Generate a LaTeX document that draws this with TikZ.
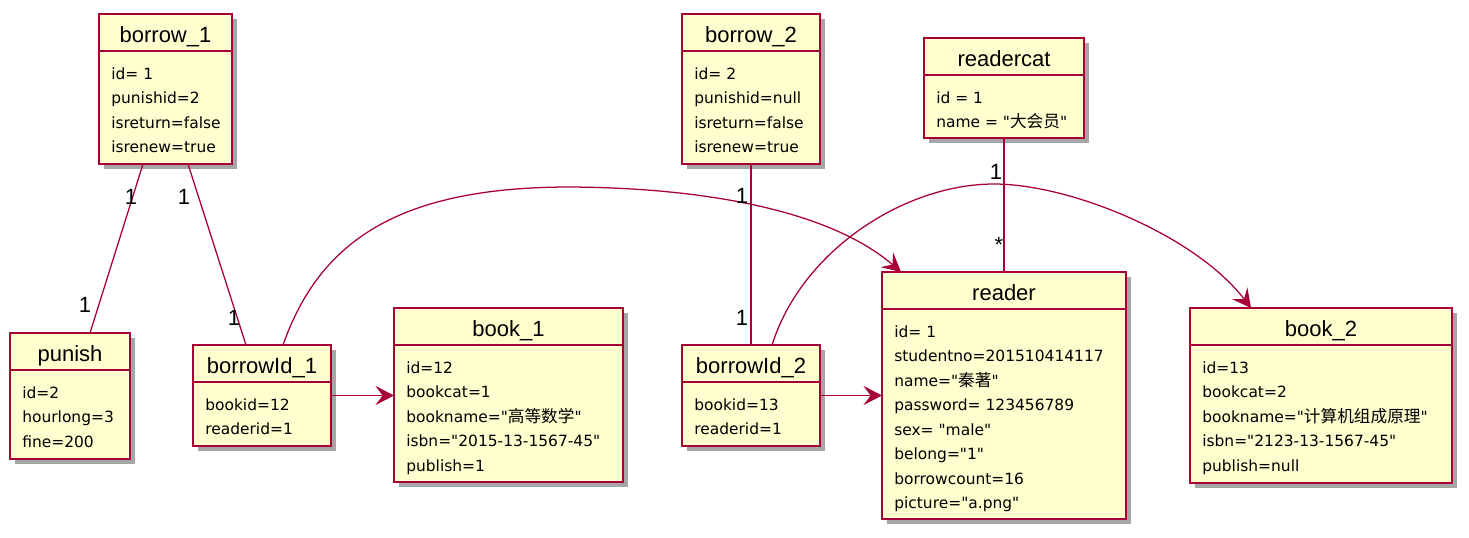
\documentclass[tikz,border=0pt]{standalone}
\usepackage{fontspec}
\setmainfont{Liberation Sans}
\newfontfamily\attrfont{DejaVu Sans}
\newfontfamily\cjk{Noto Sans CJK SC}
\usepackage{tikz}
\usetikzlibrary{arrows.meta,positioning,calc,shadows}
\definecolor{umlred}{HTML}{A80036}
\definecolor{umlfill}{HTML}{FEFECE}
\newdimen\px \px=0.75pt
\newcommand{\hanzi}[1]{{\cjk\fontsize{12.5pt}{18.375pt}\selectfont #1}}
% object box: name, x, y, width, height, title, attribute lines
\newcommand{\umlobject}[7]{%
  \node[obj,minimum width=#4\px,minimum height=#5\px] (#1) at (#2,#3) {};
  \draw[objline] ($(#1.north west)+(0,37)$) -- ($(#1.north east)+(0,37)$);
  \node[objtitle] (#1t) at ($(#1.north)+(0,28.5)$) {#6};
  \node[objattr] (#1a) at ($(#1.north west)+(12,37)$) {\rule{0pt}{28\px}#7};
}

\begin{document}
\begin{tikzpicture}[x=0.75pt,y=-0.75pt,
  obj/.style={draw=umlred,fill=umlfill,line width=1.3pt,anchor=north west,inner sep=0,outer sep=0,
    drop shadow={shadow xshift=3.5pt,shadow yshift=-3.5pt,fill=black,opacity=.35}},
  objline/.style={umlred,line width=1.3pt},
  objtitle/.style={anchor=base,inner sep=0,font=\fontsize{16.5pt}{19pt}\selectfont},
  objattr/.style={anchor=north west,inner sep=0,align=left,font=\attrfont\fontsize{11.6pt}{18.375pt}\selectfont},
  link/.style={umlred,line width=0.95pt},
  arr/.style={link,-{Stealth[length=14pt,width=14.5pt,inset=5.5pt]}},
  mult/.style={inner sep=0,font=\fontsize{16.5pt}{19pt}\selectfont}
  ]
  \useasboundingbox (0,0) rectangle (1469,537);

  \umlobject{b1}{99}{14}{133}{150}{borrow\_1}{id= 1\\punishid=2\\isreturn=false\\isrenew=true}
  \umlobject{b2}{682}{14}{138}{150}{borrow\_2}{id= 2\\punishid=null\\isreturn=false\\isrenew=true}
  \umlobject{rc}{924}{38}{160}{100}{readercat}{id = 1\\name = "\hanzi{大会员}"}
  \umlobject{pn}{10}{333}{120}{126}{punish}{id=2\\hourlong=3\\fine=200}
  \umlobject{bi1}{193}{345}{138}{101}{borrowId\_1}{bookid=12\\readerid=1}
  \umlobject{bk1}{394}{308}{229}{174}{book\_1}{id=12\\bookcat=1\\bookname="\hanzi{高等数学}"\\isbn="2015-13-1567-45"\\publish=1}
  \umlobject{bi2}{682}{345}{138}{101}{borrowId\_2}{bookid=13\\readerid=1}
  \umlobject{rd}{882}{272}{244}{247}{reader}{id= 1\\studentno=201510414117\\name="\hanzi{秦著}"\\password= 123456789\\sex= "male"\\belong="1"\\borrowcount=16\\picture="a.png"}
  \umlobject{bk2}{1190}{308}{262}{175}{book\_2}{id=13\\bookcat=2\\bookname="\hanzi{计算机组成原理}"\\isbn="2123-13-1567-45"\\publish=null}

  % associations
  \draw[link] ($(b1.south west)+(44,0)$) -- ($(pn.north west)+(80,0)$);
  \draw[link] ($(b1.south west)+(89,0)$) -- ($(bi1.north west)+(53,0)$);
  \draw[link] (b2) -- (bi2);
  \draw[link] (rc) -- (rd);
  \draw[arr] (bi1.east) -- (bi1.east -| bk1.west);
  \draw[arr] (bi2) -- (rd);
  \draw[arr] ($(bi1.north west)+(90,0)$) .. controls (320,240) and (400,187) .. (570,187)
    .. controls (720,188) and (835,215) .. ($(rd.north west)+(19,0)$);
  \draw[arr] ($(bi2.north west)+(90,0)$) .. controls (802,250) and (905,184) .. (994,184)
    .. controls (1070,184) and (1195,235) .. ($(bk2.north west)+(61,0)$);

  % multiplicities
  \node[mult] (m1) at (131,197) {1};
  \node[mult] (m2) at (184,197) {1};
  \node[mult] (m3) at (85,305) {1};
  \node[mult] (m4) at (234,318) {1};
  \node[mult] (m5) at (742,196) {1};
  \node[mult] (m6) at (742,318) {1};
  \node[mult] (m7) at (996,172) {1};
  \node[mult,anchor=base] (m8) at (999,252) {*};
\end{tikzpicture}
\end{document}
